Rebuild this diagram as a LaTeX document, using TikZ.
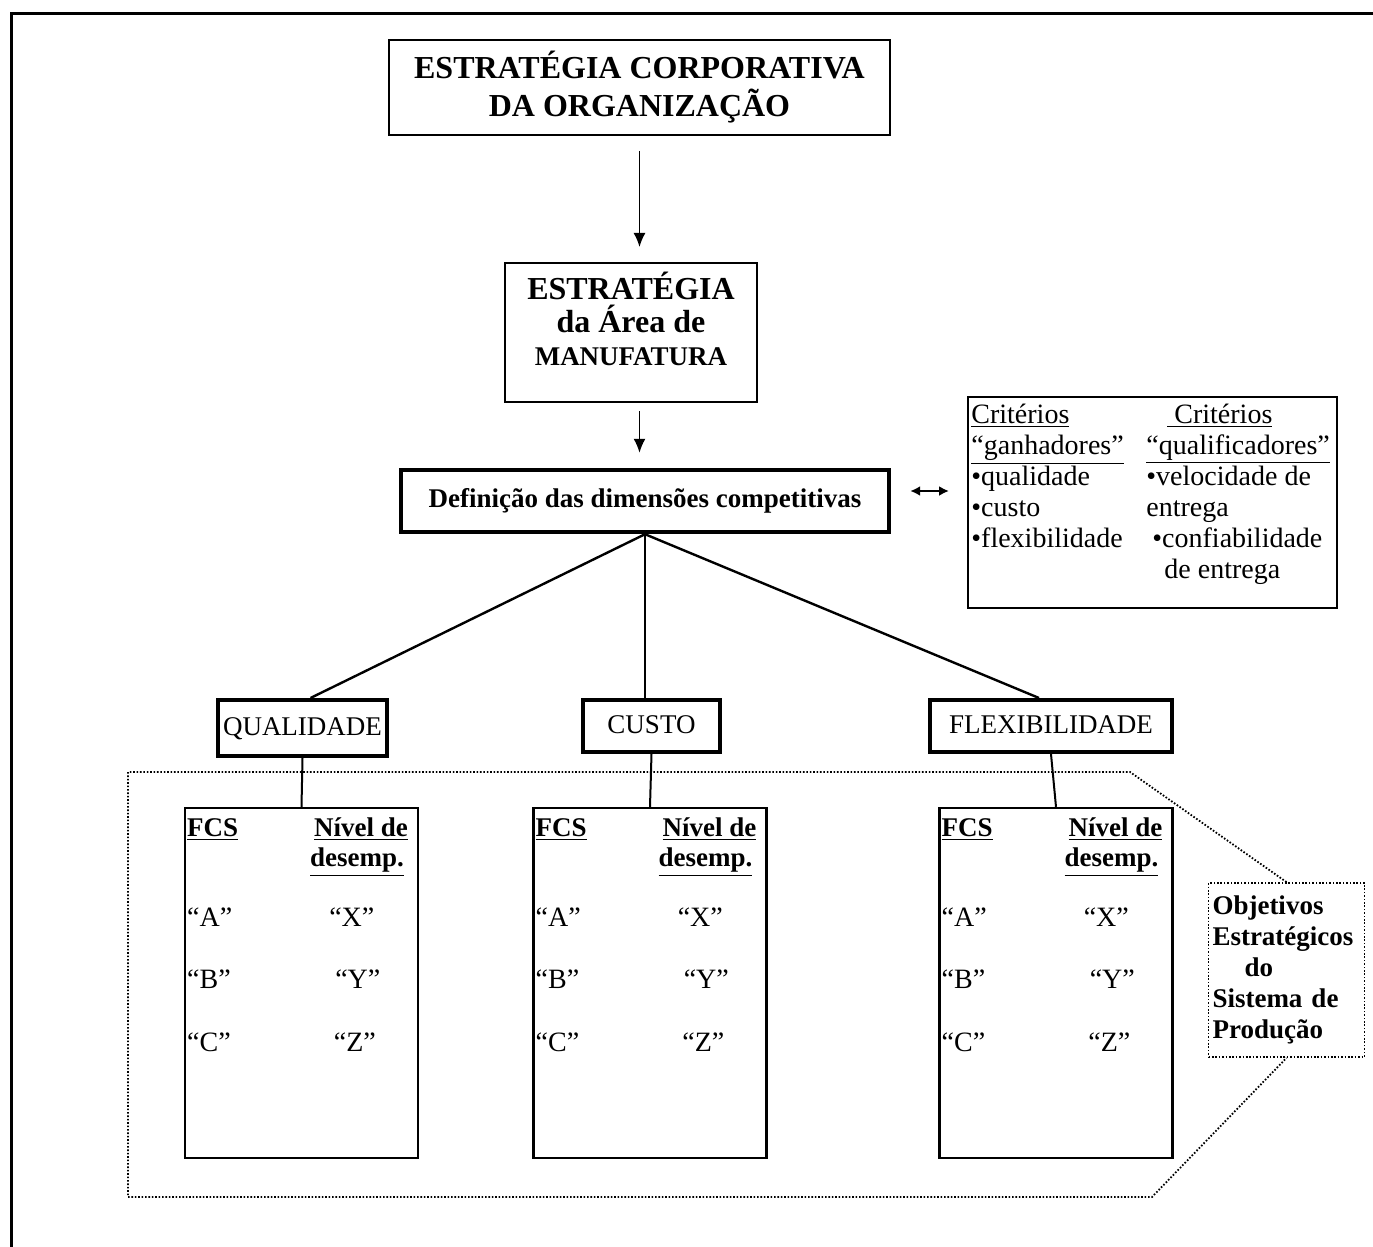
\documentclass[tikz,border=0pt]{standalone}
\usepackage{fontspec}
\setmainfont{Liberation Serif}
\usetikzlibrary{positioning, arrows.meta, calc}
\tikzset{
  topbox/.style = {rectangle, draw, line width=1pt, align=center, inner sep=2pt},
  definbox/.style = {rectangle, draw, line width=2.2pt, align=center, inner sep=2pt,
                     font=\bfseries\fontsize{13.5}{16}\selectfont},
  dimbox/.style = {rectangle, draw, line width=2pt, inner sep=2pt, minimum height=26pt,
                   text height=9.5pt, text depth=2.5pt,
                   font=\fontsize{13.5}{16}\selectfont},
  fcsbox/.style = {rectangle, draw, line width=1.2pt, minimum width=116.5pt, minimum height=175pt},
  fcshead/.style = {inner sep=0pt, font=\bfseries\fontsize{13.5}{15}\selectfont},
  fcsitem/.style = {inner sep=0pt, font=\fontsize{14}{16}\selectfont},
  objbox/.style = {rectangle, draw, line width=0.9pt, dash pattern=on 0.8pt off 0.9pt,
                   text width=74pt, inner sep=2pt, minimum height=87pt, align=left,
                   font=\bfseries\fontsize{13.5}{15.5}\selectfont},
  downarrow/.style = {-{Latex[length=7pt,width=6pt]}, line width=0.8pt},
  pairarrow/.style = {{Latex[length=5pt,width=5pt]}-{Latex[length=5pt,width=5pt]}, line width=1pt},
  branch/.style = {line width=1.2pt},
  link/.style = {line width=1pt},
  zoneline/.style = {line width=0.9pt, dash pattern=on 0.8pt off 0.9pt}
}
\begin{document}
\begin{tikzpicture}[x=0.5pt, y=-0.5pt]
  \useasboundingbox (0,0) rectangle (1373,1247);
  \draw [line width=1.5pt] (1373,14) -- (11,14) -- (11,1247);

  \node [topbox, minimum width=250.5pt, minimum height=47.5pt,
         font=\bfseries\fontsize{16}{19}\selectfont] (corp) at (639.5,87.5)
        {ESTRATÉGIA CORPORATIVA\\DA ORGANIZAÇÃO};
  \node [topbox, minimum width=126pt, minimum height=69.5pt,
         font=\bfseries\fontsize{16}{16.5}\selectfont] (manuf) at (631,332.5)
        {ESTRATÉGIA\\da Área de\\{\fontsize{13.5}{15}\selectfont MANUFATURA}\\[-3pt]\mbox{}};
  \node [definbox, minimum width=244pt, minimum height=31pt] (defin) at (645,501)
        {Definição das dimensões competitivas};

  \node [rectangle, draw, line width=1pt, minimum width=184.5pt, minimum height=105.5pt] (crit) at (1152.5,502.5) {};
  \node [anchor=north west, inner sep=0pt, font=\fontsize{14}{15.5}\selectfont] (crittxt)
        at ([shift={(4,5)}]crit.north west)
        {\begin{tabular}{@{}p{87.5pt}@{}p{95pt}@{}}
           \underline{Critérios} & \hspace*{10.5pt}\underline{\hspace*{3.5pt}Critérios}\\
           \underline{“ganhadores”} & \underline{“qualificadores”}\\
           •qualidade & •velocidade de\\
           •custo & entrega\\
           •flexibilidade & \hspace*{3pt}•confiabilidade\\
           & \hspace*{9pt}de entrega
         \end{tabular}};

  \node [dimbox, minimum width=84.5pt, minimum height=28pt] (qual) at (302.5,728) {QUALIDADE};
  \node [dimbox, minimum width=68.5pt] (custo) at (651.5,726) {CUSTO};
  \node [dimbox, minimum width=121pt] (flex) at (1051,726) {FLEXIBILIDADE};

  \node [fcsbox] (fcsq) at (301.5,983) {};
  \node [fcsbox] (fcsc) at (650,983) {};
  \node [fcsbox] (fcsf) at (1056,983) {};

  \foreach \b in {fcsq, fcsc, fcsf} {
    \node [fcshead, anchor=base west] (\b-fcs) at ([shift={(3,30)}]\b.north west) {\underline{FCS}};
    \node [fcshead, anchor=base east] (\b-niv) at ([shift={(-11,30)}]\b.north east) {\underline{Nível de}};
    \node [fcshead, anchor=base east] (\b-des) at ([shift={(-15,60)}]\b.north east) {\underline{desemp.}};
    \node [fcsitem, anchor=base west] (\b-a) at ([shift={(3,120)}]\b.north west) {“A”};
    \node [fcsitem, anchor=base west] (\b-b) at ([shift={(3,182)}]\b.north west) {“B”};
    \node [fcsitem, anchor=base west] (\b-c) at ([shift={(3,245)}]\b.north west) {“C”};
    \node [fcsitem, anchor=base] (\b-x) at ([shift={(168,120)}]\b.north west) {“X”};
    \node [fcsitem, anchor=base] (\b-y) at ([shift={(174,182)}]\b.north west) {“Y”};
    \node [fcsitem, anchor=base] (\b-z) at ([shift={(171,245)}]\b.north west) {“Z”};
  }

  \node [objbox] (obj) at (1286.5,970)
        {Objetivos\\Estratégicos\\\hspace*{16pt}do\\Sistema de\\Produção};

  \coordinate (zone-tr) at (1130,772);
  \coordinate (zone-tl) at (128,772);
  \coordinate (zone-bl) at (128,1197);
  \coordinate (zone-br) at (1152,1197);
  \draw [zoneline] (obj.north) -- (zone-tr) -- (zone-tl) -- (zone-bl) -- (zone-br) -- (obj.south);

  \draw [downarrow, shorten <=7.5pt, shorten >=7.5pt] (corp.south) -- (corp.south |- manuf.north);
  \draw [downarrow, shorten <=4pt, shorten >=7.5pt] (corp.south |- manuf.south) -- (corp.south |- defin.north);
  \draw [pairarrow, shorten <=9.5pt, shorten >=9pt] ([yshift=5pt]defin.east) -- ([yshift=5pt]defin.east -| crit.west);

  \path [branch]
        (defin.south) edge ([xshift=4pt]qual.north)
        (defin.south) edge (defin.south |- custo.north)
        (defin.south) edge ([xshift=-6pt]flex.north);

  \path [link]
        (qual.south) edge (fcsq.north)
        (custo.south) edge (fcsc.north)
        (flex.south) edge (fcsf.north);
\end{tikzpicture}
\end{document}
